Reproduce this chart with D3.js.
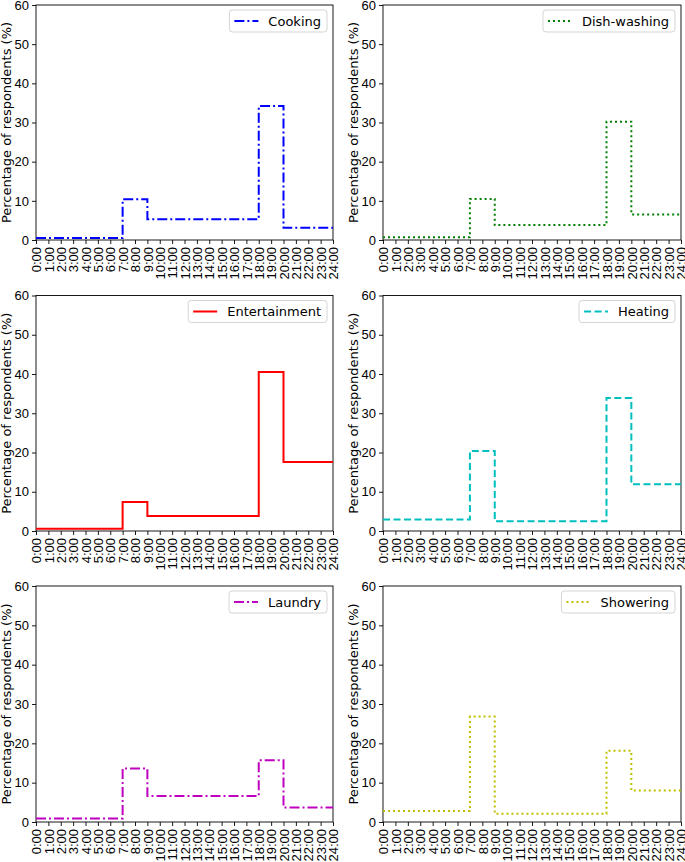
<!DOCTYPE html>
<html>
<head>
<meta charset="utf-8">
<script src="https://cdn.jsdelivr.net/npm/d3@7"></script>
<style>
	body { margin: 0; background: #fff; }
	svg { display: block; font-family: "DejaVu Sans", sans-serif; }
	.axis text { font-size: 13px; fill: #000; }
	.axis path, .axis line { stroke: #000; stroke-width: 0.9; }
</style>
</head>
<body>
<svg id="chart" width="685" height="862"></svg>
<script>
// hour breakpoints shared by every series (step after)
const hours = [0, 7, 9, 18, 20, 24];
const hourTicks = d3.range(0, 25);
const yTicks = [0, 10, 20, 30, 40, 50, 60];

const names = ["Cooking", "Dish-washing", "Entertainment", "Heating", "Laundry", "Showering"];
const cooking = [0.5, 10.4, 5.3, 34.2, 3.1];
const dishwashing = [0.7, 10.5, 3.8, 30.2, 6.5];
const entertainment = [0.6, 7.4, 3.8, 40.5, 17.6];
const heating = [2.9, 20.4, 2.5, 33.9, 11.9];
const laundry = [0.9, 13.6, 6.6, 15.7, 3.7];
const showering = [2.8, 26.8, 2.1, 18.1, 8.0];

const seriesValues = [cooking, dishwashing, entertainment, heating, laundry, showering];
const colors = ["#0000ff", "#008000", "#ff0000", "#00bfbf", "#bf00bf", "#bfbf00"];
const dashes = ["10,3,2,3", "2,3", null, "7,3.5", "10,3,2,3", "2,3"];

const svg = d3.select("#chart");

// panel frames
const cols = [{x0: 36, x1: 333}, {x0: 383, x1: 681}];
const rows = [{y0: 5, y1: 240}, {y0: 295.5, y1: 531}, {y0: 586, y1: 822}];

names.forEach((name, i) => {
	const c = cols[i % 2];
	const r = rows[Math.floor(i / 2)];

	const x = d3.scaleLinear().domain([0, 24]).range([c.x0, c.x1]);
	const y = d3.scaleLinear().domain([0, 60]).range([r.y1, r.y0]);

	const g = svg.append("g");

	// plot frame
	g.append("rect")
		.attr("x", c.x0).attr("y", r.y0)
		.attr("width", c.x1 - c.x0).attr("height", r.y1 - r.y0)
		.attr("fill", "none").attr("stroke", "#000").attr("stroke-width", 0.9);

	// y axis
	g.append("g")
		.attr("class", "axis")
		.attr("transform", `translate(${c.x0},0)`)
		.call(d3.axisLeft(y).tickValues(yTicks).tickSize(4).tickPadding(3).tickSizeOuter(0))
		.call(a => a.select(".domain").remove());

	// x axis, rotated labels
	g.append("g")
		.attr("class", "axis")
		.attr("transform", `translate(0,${r.y1})`)
		.call(d3.axisBottom(x).tickValues(hourTicks).tickFormat(h => h + ":00").tickSize(4).tickPadding(3).tickSizeOuter(0))
		.call(a => a.select(".domain").remove())
		.selectAll("text")
		.attr("transform", "rotate(-90)")
		.attr("text-anchor", "end")
		.attr("x", -7)
		.attr("y", 0)
		.attr("dy", "0.36em");

	// y label
	g.append("text")
		.attr("transform", `translate(${c.x0 - 25},${(r.y0 + r.y1) / 2}) rotate(-90)`)
		.attr("text-anchor", "middle")
		.style("font-size", "13px")
		.text("Percentage of respondents (%)");

	// step line
	const vals = seriesValues[i];
	const pts = hours.map((h, k) => [h, vals[Math.min(k, vals.length - 1)]]);
	const line = d3.line()
		.x(d => x(d[0]))
		.y(d => y(d[1]))
		.curve(d3.curveStepAfter);

	g.append("path")
		.datum(pts)
		.attr("d", line)
		.attr("fill", "none")
		.attr("stroke", colors[i])
		.attr("stroke-width", 2)
		.attr("stroke-dasharray", dashes[i]);

	// legend, upper right
	const tw = name.length * 7.6 + 6;
	const lw = 34 + tw;
	const lx = c.x1 - 6 - lw;
	const ly = r.y0 + 5;
	const leg = g.append("g");
	leg.append("rect")
		.attr("x", lx).attr("y", ly)
		.attr("width", lw).attr("height", 22)
		.attr("rx", 3)
		.attr("fill", "#fff").attr("fill-opacity", 0.8)
		.attr("stroke", "#d0d0d0").attr("stroke-width", 0.9);
	leg.append("line")
		.attr("x1", lx + 5).attr("x2", lx + 29)
		.attr("y1", ly + 11).attr("y2", ly + 11)
		.attr("stroke", colors[i])
		.attr("stroke-width", 2)
		.attr("stroke-dasharray", dashes[i]);
	const t = leg.append("text")
		.attr("x", lx + 39).attr("y", ly + 11)
		.attr("dy", "0.36em")
		.style("font-size", "13px")
		.text(name);
	// fit box to measured text
	const bw = t.node().getComputedTextLength();
	const nw = 39 + bw + 6;
	const nx = c.x1 - 6 - nw;
	const shift = nx - lx;
	leg.attr("transform", `translate(${shift},0)`);
	leg.select("rect").attr("width", nw);
});
</script>
</body>
</html>
